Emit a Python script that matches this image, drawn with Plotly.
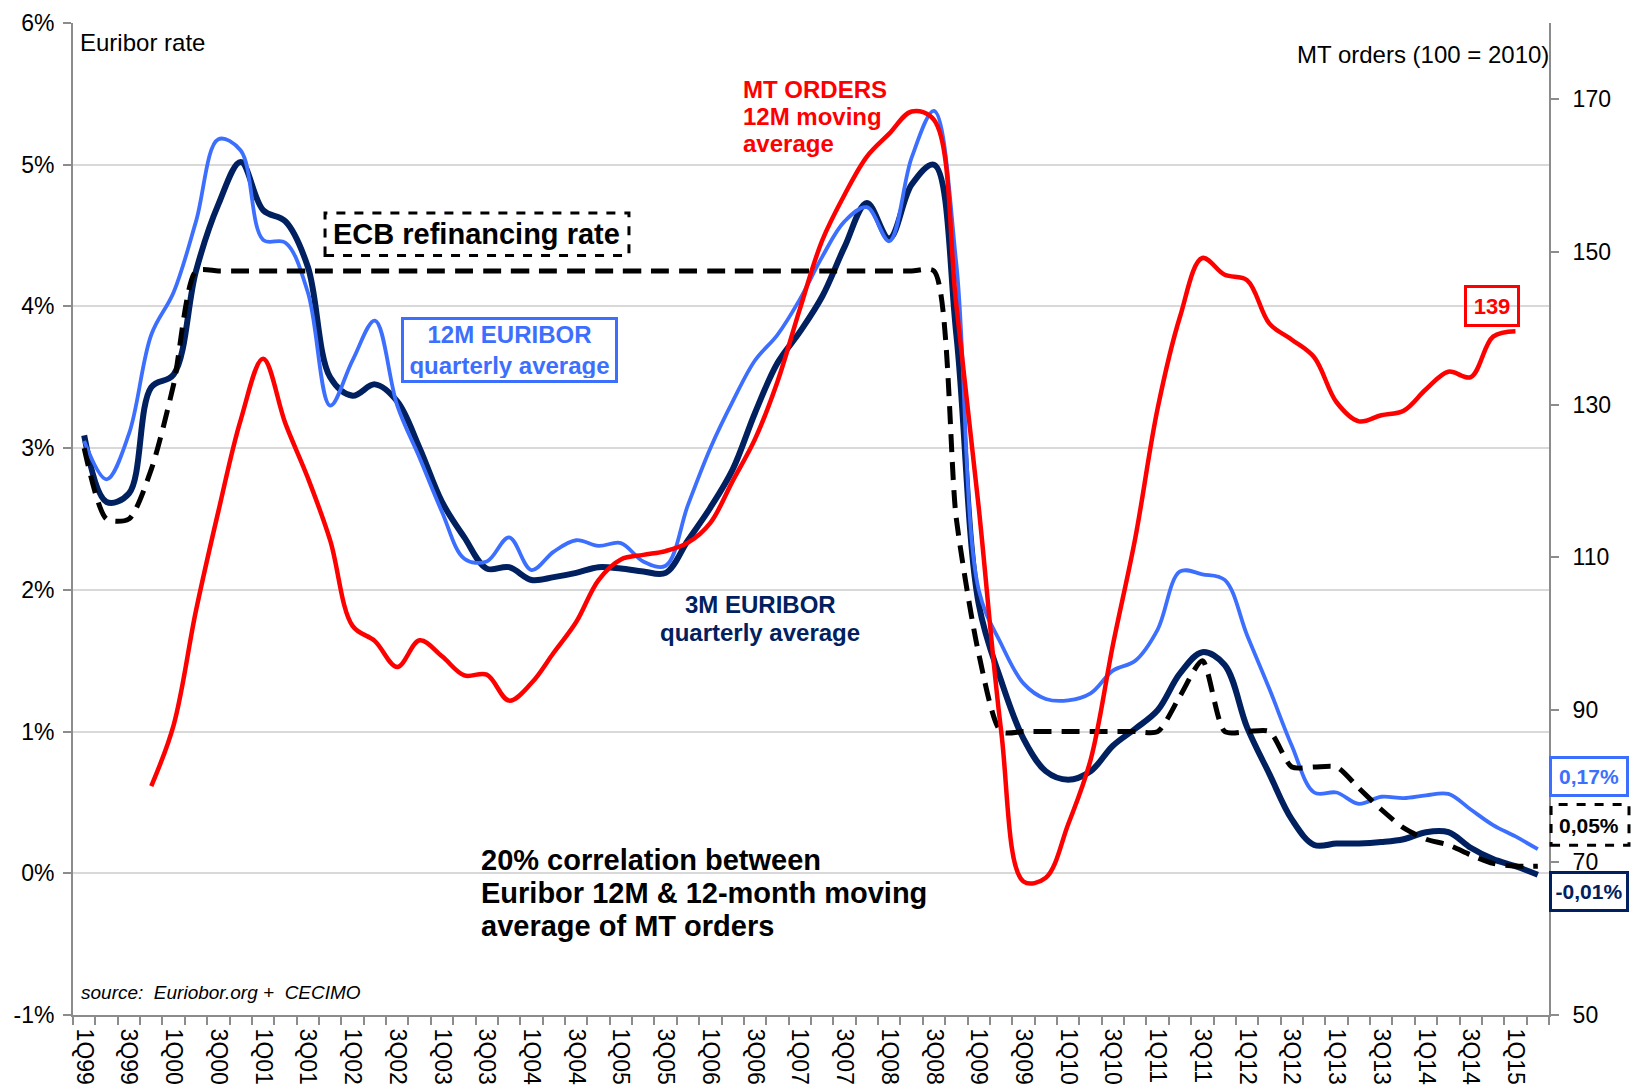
import plotly.graph_objects as go

# ---------------- data ----------------
quarters = ["1Q99","2Q99","3Q99","4Q99","1Q00","2Q00","3Q00","4Q00","1Q01","2Q01","3Q01","4Q01",
            "1Q02","2Q02","3Q02","4Q02","1Q03","2Q03","3Q03","4Q03","1Q04","2Q04","3Q04","4Q04",
            "1Q05","2Q05","3Q05","4Q05","1Q06","2Q06","3Q06","4Q06","1Q07","2Q07","3Q07","4Q07",
            "1Q08","2Q08","3Q08","4Q08","1Q09","2Q09","3Q09","4Q09","1Q10","2Q10","3Q10","4Q10",
            "1Q11","2Q11","3Q11","4Q11","1Q12","2Q12","3Q12","4Q12","1Q13","2Q13","3Q13","4Q13",
            "1Q14","2Q14","3Q14","4Q14","1Q15","2Q15"]

euribor_12m = [3.05, 2.78, 3.10, 3.80, 4.10, 4.60, 5.18, 5.10, 4.47, 4.45, 4.10, 3.30,
               3.62, 3.90, 3.30, 2.93, 2.55, 2.22, 2.20, 2.37, 2.14, 2.27, 2.35, 2.31,
               2.33, 2.20, 2.17, 2.60, 3.00, 3.33, 3.62, 3.80, 4.05, 4.35, 4.60, 4.70,
               4.46, 5.05, 5.38, 4.30, 2.00, 1.62, 1.34, 1.23, 1.22, 1.27, 1.43, 1.50,
               1.72, 2.13, 2.11, 2.07, 1.68, 1.30, 0.90, 0.57, 0.57, 0.49, 0.54, 0.53,
               0.55, 0.56, 0.45, 0.34, 0.26, 0.17]

euribor_3m = [3.09, 2.62, 2.68, 3.43, 3.52, 4.25, 4.72, 5.02, 4.68, 4.60, 4.28, 3.50,
              3.37, 3.45, 3.33, 3.00, 2.62, 2.37, 2.15, 2.16, 2.07, 2.09, 2.12, 2.16,
              2.15, 2.13, 2.12, 2.35, 2.58, 2.85, 3.25, 3.60, 3.82, 4.07, 4.42, 4.73,
              4.48, 4.86, 5.00, 3.80, 1.90, 1.36, 0.95, 0.72, 0.66, 0.72, 0.90, 1.02,
              1.15, 1.41, 1.56, 1.47, 1.03, 0.70, 0.38, 0.20, 0.21, 0.21, 0.22, 0.24,
              0.29, 0.29, 0.18, 0.10, 0.05, -0.01]

ecb_rate = [3.00, 2.50, 2.50, 2.85, 3.45, 4.25, 4.25, 4.25, 4.25, 4.25, 4.25, 4.25,
            4.25, 4.25, 4.25, 4.25, 4.25, 4.25, 4.25, 4.25, 4.25, 4.25, 4.25, 4.25,
            4.25, 4.25, 4.25, 4.25, 4.25, 4.25, 4.25, 4.25, 4.25, 4.25, 4.25, 4.25,
            4.25, 4.25, 4.25, 2.50, 1.55, 1.00, 1.00, 1.00, 1.00, 1.00, 1.00, 1.00,
            1.00, 1.25, 1.50, 1.00, 1.00, 1.00, 0.75, 0.75, 0.75, 0.60, 0.45, 0.32,
            0.24, 0.20, 0.13, 0.07, 0.05, 0.05]

mt_orders = [None, None, None, 80.0, 88.0, 103.0, 116.0, 128.0, 136.0, 127.5, 120.4, 112.2,
             101.0, 99.0, 95.6, 99.1, 97.0, 94.5, 94.6, 91.2, 93.5, 97.5, 101.5, 107.0,
             109.7, 110.3, 110.8, 111.9, 114.5, 120.0, 125.5, 133.0, 142.5, 151.5, 157.5, 162.5,
             165.5, 168.4, 167.3, 143.0, 116.5, 87.3, 67.5, 68.0, 75.0, 83.4, 98.5, 112.5,
             129.5, 141.5, 149.2, 147.0, 146.3, 140.6, 138.5, 136.2, 130.3, 127.8, 128.6, 129.2,
             132.0, 134.3, 133.6, 138.9, 139.6, None]

left_tick_vals = [-1, 0, 1, 2, 3, 4, 5, 6]
left_tick_text = ["-1%", "0%", "1%", "2%", "3%", "4%", "5%", "6%"]
right_tick_vals = [50, 70, 90, 110, 130, 150, 170]
right_tick_text = ["50", "70", "90", "110", "130", "150", "170"]

# ---------------- styling ----------------
FONT = "Liberation Sans, Arial, sans-serif"
C_12M = "#3d6fff"
C_3M = "#002060"
C_RED = "#ff0000"
GRAY = "#8c8c8c"

x_idx = list(range(len(quarters)))

fig = go.Figure()
fig.add_trace(go.Scatter(x=x_idx, y=euribor_3m, mode="lines",
                         line=dict(color=C_3M, width=6, shape="spline", smoothing=1.0),
                         hoverinfo="skip"))
fig.add_trace(go.Scatter(x=x_idx, y=euribor_12m, mode="lines",
                         line=dict(color=C_12M, width=3.8, shape="spline", smoothing=1.0),
                         hoverinfo="skip"))
fig.add_trace(go.Scatter(x=x_idx, y=ecb_rate, mode="lines",
                         line=dict(color="black", width=5, dash="18px,10px", shape="spline", smoothing=0.7),
                         hoverinfo="skip"))
fig.add_trace(go.Scatter(x=x_idx, y=mt_orders, mode="lines", yaxis="y2",
                         line=dict(color=C_RED, width=4.5, shape="spline", smoothing=1.0),
                         hoverinfo="skip"))

annotations = []

def ann(text, x, y, size, color="black", xanchor="center", bold=False, xref="x", yref="y", **kw):
    t = f"<b>{text}</b>" if bold else text
    d = dict(text=t, x=x, y=y, xref=xref, yref=yref, xanchor=xanchor, yanchor="middle",
             showarrow=False, font=dict(family=FONT, size=size, color=color))
    d.update(kw)
    annotations.append(d)

ann("Euribor rate", -0.27, 5.86, 24, xanchor="left")
ann("MT orders (100 = 2010)", 1.0014, 5.78, 24, xanchor="right", xref="paper")
ann("ECB refinancing rate", 17.56, 4.51, 29, bold=True)
ann("12M EURIBOR<br>quarterly average", 19.03, 3.695, 24, color=C_12M, bold=True,
    bordercolor=C_12M, borderwidth=3, borderpad=2, width=207, height=56)
for txt, yy in zip(["MT ORDERS", "12M moving", "average"], [5.53, 5.34, 5.15]):
    ann(txt, 29.39, yy, 24, color=C_RED, xanchor="left", bold=True)
for txt, yy in zip(["3M EURIBOR", "quarterly average"], [1.90, 1.70]):
    ann(txt, 30.23, yy, 24, color=C_3M, bold=True)
for txt, yy in zip(["20% correlation between", "Euribor 12M & 12-month moving",
                    "average of MT orders"], [0.095, -0.14, -0.375]):
    ann(txt, 17.66, yy, 29, xanchor="left", bold=True)
ann("<i>source:\u00a0 Euriobor.org +\u00a0 CECIMO</i>", -0.22, -0.84, 19, xanchor="left")
ann("139", 62.95, 4.0, 22, color=C_RED, bold=True,
    bordercolor=C_RED, borderwidth=3, borderpad=3, width=44, height=30)
ann("0,17%", 1.027, 0.683, 21, color=C_12M, bold=True, xref="paper",
    bordercolor=C_12M, borderwidth=3, borderpad=3, width=68, height=29)
ann("0,05%", 1.027, 0.338, 21, color="black", bold=True, xref="paper")
ann("-0,01%", 1.027, -0.132, 21, color=C_3M, bold=True, xref="paper",
    bordercolor=C_3M, borderwidth=3, borderpad=3, width=68, height=29)

shapes = [
    dict(type="rect", xref="x", yref="y", x0=10.77, x1=24.36, y0=4.36, y1=4.66,
         line=dict(color="black", width=3, dash="dash"), layer="above"),
    dict(type="rect", xref="paper", yref="y", x0=1.0014, x1=1.0542, y0=0.198, y1=0.485,
         line=dict(color="black", width=3, dash="dash"), layer="above"),
]

fig.update_layout(
    template="none",
    width=1632, height=1091,
    margin=dict(l=73, r=83, t=23, b=76, autoexpand=False),
    paper_bgcolor="white", plot_bgcolor="white",
    showlegend=False,
    font=dict(family=FONT, size=23, color="black"),
    annotations=annotations,
    shapes=shapes,
    xaxis=dict(range=[-0.5, len(quarters) - 0.5], tickmode="array",
               tickvals=x_idx[::2], ticktext=quarters[::2], tickangle=90,
               ticks="", showline=True, linecolor=GRAY, linewidth=2,
               showgrid=False, zeroline=False, automargin=False,
               tickfont=dict(family=FONT, size=23, color="black"),
               ticklabelstandoff=7,
               minor=dict(tickmode="array", tickvals=[i - 0.5 for i in range(len(quarters) + 1)],
                          ticks="outside", ticklen=8, tickwidth=2, tickcolor=GRAY, showgrid=False)),
    yaxis=dict(range=[-1, 6], tickmode="array", tickvals=left_tick_vals, ticktext=left_tick_text,
               ticks="outside", ticklen=8, tickwidth=2, tickcolor=GRAY,
               showline=True, linecolor=GRAY, linewidth=2,
               showgrid=True, gridcolor="#d9d9d9", gridwidth=1.5, zeroline=False,
               automargin=False, ticklabelstandoff=4,
               tickfont=dict(family=FONT, size=23, color="black")),
    yaxis2=dict(range=[50, 180], overlaying="y", side="right", tickmode="array",
                tickvals=right_tick_vals, ticktext=right_tick_text,
                ticks="outside", ticklen=8, tickwidth=2, tickcolor=GRAY,
                showline=True, linecolor=GRAY, linewidth=2,
                showgrid=False, zeroline=False, automargin=False, ticklabelstandoff=9,
                tickfont=dict(family=FONT, size=23, color="black")),
)

fig.write_html("out.html", config={"displayModeBar": False},
               post_script="document.body.style.margin='0';document.body.style.overflow='hidden';")
